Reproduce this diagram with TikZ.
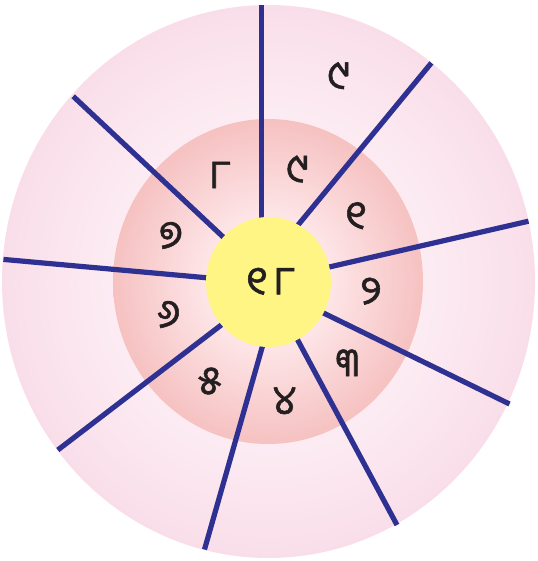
\documentclass[tikz,border=0pt]{standalone}
\usepackage{fontspec}
\newfontfamily\odia[Script=Oriya, FakeBold=1.3]{Noto Sans Oriya UI}
\usetikzlibrary{calc}
\definecolor{spoke}{HTML}{2E3192}
\definecolor{txt}{HTML}{231F20}
\definecolor{ringlight}{HTML}{FDEEF4}
\definecolor{ringdark}{HTML}{F9DEE9}
\definecolor{innerlight}{HTML}{FEE8EA}
\definecolor{innerdark}{HTML}{F6C1C1}
\definecolor{sun}{HTML}{FFF584}
\pgfdeclareradialshading{outershade}{\pgfpoint{0bp}{0bp}}{color(0bp)=(ringlight); color(13bp)=(ringlight); color(25bp)=(ringdark); color(50bp)=(ringdark)}
\pgfdeclareradialshading{innershade}{\pgfpoint{0bp}{0bp}}{color(0bp)=(innerlight); color(9bp)=(innerlight); color(25bp)=(innerdark); color(50bp)=(innerdark)}
\tikzset{
  spokeline/.style={draw=spoke, line width=5.2pt},
  digit/.style={text=txt, font=\odia\fontsize{40}{44}\selectfont, inner sep=0pt},
}
\begin{document}
\begin{tikzpicture}[x=1pt, y=-1pt]
\useasboundingbox (0,0) rectangle (537,561);
% discs
\path[shading=outershade] (268.5,281.5) ellipse [x radius=266.5, y radius=276.5];
\path[shading=innershade] (268,281.5) ellipse [x radius=155, y radius=162.5];
% spoke end points
\coordinate (o1) at (261.3,5.4);   \coordinate (i1) at (261.3,217);
\coordinate (o2) at (431.4,62.9);  \coordinate (i2) at (298.4,224.6);
\coordinate (o3) at (528.5,221.2); \coordinate (i3) at (331,266.6);
\coordinate (o4) at (509.5,404);   \coordinate (i4) at (324.9,313.7);
\coordinate (o5) at (397,525);     \coordinate (i5) at (298.4,341.4);
\coordinate (o6) at (204.5,549.5); \coordinate (i6) at (262,347.8);
\coordinate (o7) at (57.8,450);    \coordinate (i7) at (221,325.2);
\coordinate (o8) at (3.4,259.4);   \coordinate (i8) at (207,277.8);
\coordinate (o9) at (73.2,96.3);   \coordinate (i9) at (224.1,237.9);
\foreach \k in {1,...,9}{
  \draw[spokeline] (o\k) -- ($(o\k)!1.08!(i\k)$);
}
% centre
\path[fill=sun] (268.5,282) ellipse [x radius=62.5, y radius=65];
\node[digit] (c) at (270.5,283) {୧\hspace{5pt}୮};
% labels
\node[digit] (t0) at (338.6,77.3) {୯};
\node[digit] (t8) at (220,176.8) {୮};
\node[digit] (t9) at (297.4,170.7) {୯};
\node[digit] (t1) at (355.8,217.4) {୧};
\node[digit] (t2) at (371,292.9) {୨};
\node[digit] (t3) at (347.2,364.7) {୩};
\node[digit] (t4) at (284.6,402.4) {୪};
\node[digit] (t5) at (209.7,382.7) {୫};
\node[digit] (t6) at (168.4,316.2) {୬};
\node[digit] (t7) at (170.8,237.2) {୭};
\end{tikzpicture}
\end{document}
